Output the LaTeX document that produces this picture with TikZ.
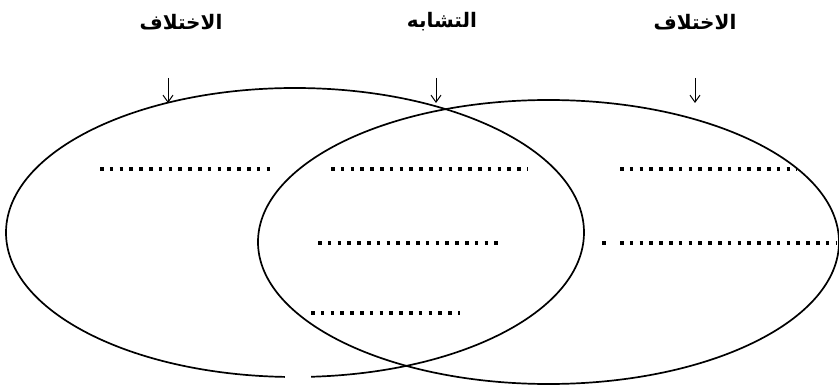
\documentclass[tikz,border=0pt]{standalone}
\usepackage{fontspec}
\newfontfamily\arabicfont[Script=Arabic]{DejaVu Sans}
\TeXXeTstate=1
\usetikzlibrary{arrows.meta}
\tikzset{
  ring/.style={line width=1.7pt, draw=black},
  blank/.style={line width=3.6pt, dash pattern=on 3.6pt off 6.2pt, line cap=butt},
  arr/.style={line width=1pt, -{Straight Barb[length=7pt,width=10pt]}},
  title/.style={font=\arabicfont\bfseries\fontsize{20}{24}\selectfont, inner sep=0pt}
}
\begin{document}
\begin{tikzpicture}[x=1pt,y=-1pt]
\useasboundingbox (0,0) rectangle (839,385);
% ellipses
\draw[ring] (295,232.5) ++(92:289 and 144.5) arc[start angle=92, end angle=446.8, x radius=289, y radius=144.5];
\draw[ring] (548.5,242) ellipse[x radius=290.5, y radius=142];
% titles
\node[title] (t1) at (181,22) {\beginR الاختلاف\endR};
\node[title] (t2) at (442,22) {\beginR التشابه\endR};
\node[title] (t3) at (695,22) {\beginR الاختلاف\endR};
% arrows
\coordinate (a1s) at (168,78); \coordinate (a1e) at (168,103);
\coordinate (a2s) at (436,78); \coordinate (a2e) at (436,103);
\coordinate (a3s) at (695,78); \coordinate (a3e) at (695,103);
\draw[arr] (a1s) -- (a1e);
\draw[arr] (a2s) -- (a2e);
\draw[arr] (a3s) -- (a3e);
% dotted blanks
\coordinate (l1s) at (100,169); \coordinate (l1e) at (270,169);
\coordinate (m1s) at (331,169); \coordinate (m1e) at (528,169);
\coordinate (m2s) at (318,243); \coordinate (m2e) at (501,243);
\coordinate (m3s) at (311,313); \coordinate (m3e) at (460,313);
\coordinate (r1s) at (620,169); \coordinate (r1e) at (797,169);
\coordinate (r0s) at (602,243); \coordinate (r0e) at (605.6,243);
\coordinate (r2s) at (620,243); \coordinate (r2e) at (836,243);
\draw[blank] (l1s) -- (l1e);
\draw[blank] (m1s) -- (m1e);
\draw[blank] (m2s) -- (m2e);
\draw[blank] (m3s) -- (m3e);
\draw[blank] (r1s) -- (r1e);
\draw[blank] (r0s) -- (r0e);
\draw[blank] (r2s) -- (r2e);
\end{tikzpicture}
\end{document}
